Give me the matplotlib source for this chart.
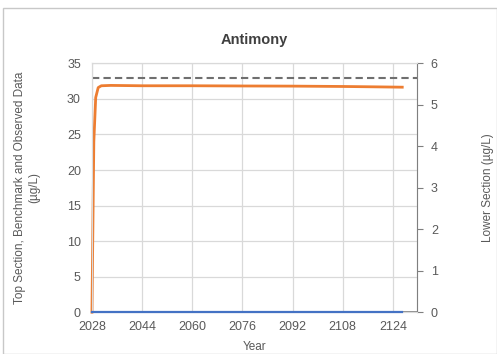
import matplotlib
matplotlib.use("Agg")
import matplotlib.pyplot as plt
from matplotlib.patches import Rectangle

# top section concentration (ug/L)
top_years = [2028, 2028.6, 2029.2, 2030, 2031, 2034, 2044, 2060, 2076, 2092, 2108, 2118, 2127]
top_conc = [0.0, 24.0, 30.2, 31.6, 31.85, 31.9, 31.85, 31.85, 31.82, 31.8, 31.75, 31.7, 31.65]

# lower section concentration (ug/L)
low_years = [2028, 2060, 2092, 2127]
low_conc = [0.0, 0.0, 0.0, 0.0]

benchmark = 33.0
xticks = [2028, 2044, 2060, 2076, 2092, 2108, 2124]

txt = "#595959"
plt.rcParams["font.family"] = ["Liberation Sans", "DejaVu Sans"]

fig = plt.figure(figsize=(4.97, 3.54), dpi=100)
fig.patches.append(Rectangle((0.006, 0.0), 0.994, 0.977, transform=fig.transFigure,
                             fill=False, edgecolor="#c8c8c8", linewidth=1.0))
ax = fig.add_axes([0.185, 0.118, 0.654, 0.703])
ax2 = ax.twinx()

ax.axhline(benchmark, color="#6f6f6f", linestyle=(0, (3.5, 2)), linewidth=1.5, zorder=3)
ax.plot(top_years, top_conc, color="#ed7d31", linewidth=2.0, zorder=4, clip_on=False)
ax2.plot(low_years, low_conc, color="#4472c4", linewidth=1.6, zorder=4, clip_on=False)

ax.set_xlim(2028, 2131.7)
ax.set_ylim(0, 35)
ax2.set_ylim(0, 6)
ax.set_xticks(xticks)
ax.set_yticks(range(0, 36, 5))
ax2.set_yticks(range(0, 7))
ax.grid(True, color="#d9d9d9", linewidth=0.9)
ax.set_axisbelow(True)

for a in (ax, ax2):
    for s in a.spines.values():
        s.set_color("#d9d9d9")
    a.tick_params(colors=txt, labelsize=9, length=0)
ax.tick_params(axis="x", pad=6)
ax.tick_params(axis="y", pad=8)
ax.spines["bottom"].set_color("#7f7f7f")
ax.spines["bottom"].set_linewidth(1.2)
ax2.spines["right"].set_color("#7f7f7f")
ax2.tick_params(axis="y", length=4, color="#7f7f7f", pad=6)

ax.set_title("Antimony", fontsize=10.5, fontweight="bold", color="#404040", pad=14)
ax.set_xlabel("Year", fontsize=8.5, color=txt, labelpad=6)
ax.set_ylabel("Top Section, Benchmark and Observed Data\n(\u00b5g/L)", fontsize=8.5,
              color=txt, linespacing=1.3)
ax.yaxis.set_label_coords(-0.158, 0.5)
ax2.set_ylabel("Lower Section (\u00b5g/L)", fontsize=8.5, color=txt)
ax2.yaxis.set_label_coords(1.2, 0.5)

fig.savefig("out.png", dpi=100)
